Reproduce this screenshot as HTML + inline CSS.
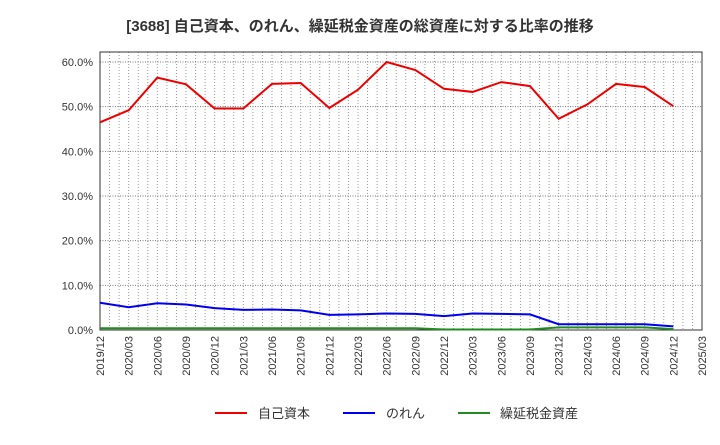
<!DOCTYPE html>
<html><head><meta charset="utf-8"><style>
body{margin:0;background:#fff;font-family:"Liberation Sans","Noto Sans CJK JP",sans-serif;}
svg text{font-family:"Liberation Sans","Noto Sans CJK JP",sans-serif;}
</style></head><body>
<svg id="c" width="720" height="440" xmlns="http://www.w3.org/2000/svg">
<text x="360" y="31" text-anchor="middle" font-size="15" font-weight="bold" fill="#333">[3688]  自己資本、のれん、繰延税金資産の総資産に対する比率の推移</text>
<g id="grid"></g><g id="axes"></g><g id="series"></g>
<g>
<line x1="215" y1="413" x2="247" y2="413" stroke="#e00" stroke-width="2"/>
<text x="258" y="418" font-size="13" fill="#333">自己資本</text>
<line x1="343" y1="413" x2="375" y2="413" stroke="#00e" stroke-width="2"/>
<text x="386" y="418" font-size="13" fill="#333">のれん</text>
<line x1="458" y1="413" x2="490" y2="413" stroke="#228b22" stroke-width="2"/>
<text x="500" y="418" font-size="13" fill="#333">繰延税金資産</text>
</g>
</svg>
<script>
const categories=["2019/12","2020/03","2020/06","2020/09","2020/12","2021/03","2021/06","2021/09","2021/12","2022/03","2022/06","2022/09","2022/12","2023/03","2023/06","2023/09","2023/12","2024/03","2024/06","2024/09","2024/12","2025/03"];
const equity=[46.5,49.2,56.5,55.0,49.6,49.6,55.1,55.3,49.7,53.8,60.0,58.2,54.0,53.3,55.5,54.6,47.3,50.5,55.1,54.4,50.1];
const goodwill=[6.1,5.1,6.0,5.7,4.9,4.5,4.6,4.4,3.4,3.5,3.7,3.6,3.1,3.7,3.6,3.5,1.3,1.3,1.3,1.3,0.8];
const dta=[0.4,0.4,0.4,0.4,0.4,0.4,0.4,0.4,0.4,0.4,0.4,0.4,0.1,0.1,0.1,0.1,0.6,0.6,0.6,0.6,0.2];
const yTicks=[0,10,20,30,40,50,60];
const NS="http://www.w3.org/2000/svg";
const L=100,R=702,T=52,B=330;
const x=i=>L+(R-L)*i/(categories.length-1);
const y=v=>B-(B-62)*v/60;
function mk(tag,attrs,parent){const e=document.createElementNS(NS,tag);for(const k in attrs)e.setAttribute(k,attrs[k]);parent.appendChild(e);return e;}
const grid=document.getElementById('grid'),axes=document.getElementById('axes'),series=document.getElementById('series');
const nm=(categories.length-1)*3;
for(let m=1;m<nm;m++){const xx=L+(R-L)*m/nm;const l=mk('line',{x1:xx,x2:xx,y1:T,y2:B,stroke:'#999','stroke-dasharray':'1,2','stroke-width':1},grid);

}
yTicks.forEach(v=>{const l=mk('line',{x1:L,x2:R,y1:y(v),y2:y(v),stroke:'#777','stroke-dasharray':'1,1.5','stroke-width':1},grid);


const t=mk('text',{x:L-7,y:y(v)+4,'text-anchor':'end','font-size':11,fill:'#333'},axes);t.textContent=v.toFixed(1)+'%';

});
const fr=mk('rect',{x:L,y:T,width:R-L,height:B-T,fill:'none',stroke:'#333','stroke-width':1},axes);


categories.forEach((c,i)=>{const t=mk('text',{transform:`translate(${x(i)+4},${B+6}) rotate(-90)`,'text-anchor':'end','font-size':11,fill:'#333'},axes);t.textContent=c;

});
[[dta,'#228b22','dta-line'],[goodwill,'#00e','goodwill-line'],[equity,'#e00','equity-line']].forEach(([d,col,n])=>{
const p=mk('polyline',{points:d.map((v,i)=>x(i)+','+y(v)).join(' '),fill:'none',stroke:col,'stroke-width':2},series);

});
</script>
</body></html>
